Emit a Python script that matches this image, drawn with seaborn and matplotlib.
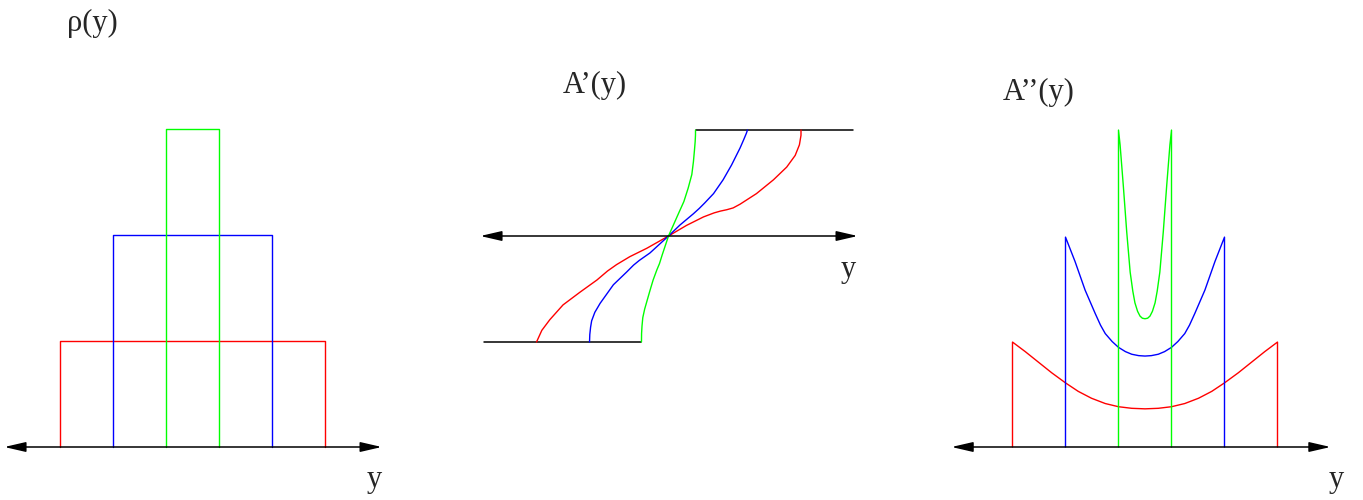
import numpy as np
import matplotlib.pyplot as plt
import seaborn as sns

sns.set_theme(style="white")
plt.rcParams["font.family"] = ["Liberation Serif", "DejaVu Serif"]

colors = ["red", "blue", "#00ff00"]

# rho(y): three slabs (half width, height)
slab_half_width = [2.5, 1.5, 0.5]
slab_height = [1, 2, 3]

# A'(y) curves: position y and value A'
ap_red_y = [-2.49, -2.39, -2.24, -1.99, -1.67, -1.35, -1.15, -0.98, -0.73, -0.41, 0,
            0.34, 0.66, 0.86, 0.98, 1.10, 1.22, 1.35, 1.66, 1.98, 2.23, 2.39, 2.47, 2.50, 2.50]
ap_red_v = [-1.0, -0.89, -0.79, -0.65, -0.53, -0.415, -0.33, -0.27, -0.195, -0.116, 0,
            0.10, 0.18, 0.218, 0.235, 0.248, 0.265, 0.30, 0.40, 0.53, 0.65, 0.76, 0.86, 0.95, 1.0]
ap_blue_y = [-1.49, -1.485, -1.47, -1.45, -1.39, -1.29, -1.04, -0.79, -0.66, -0.55, -0.35, 0,
             0.217, 0.47, 0.58, 0.68, 0.85, 1.03, 1.19, 1.35, 1.42, 1.47, 1.49]
ap_blue_v = [-1.0, -0.93, -0.86, -0.80, -0.72, -0.635, -0.46, -0.34, -0.275, -0.23, -0.16, 0,
             0.104, 0.21, 0.26, 0.31, 0.40, 0.53, 0.67, 0.83, 0.91, 0.97, 1.0]
ap_green_y = [-0.51, -0.508, -0.50, -0.485, -0.45, -0.41, -0.35, -0.29, -0.22, -0.17, -0.12, 0,
              0.12, 0.20, 0.245, 0.29, 0.37, 0.44, 0.47, 0.49, 0.503, 0.509, 0.51]
ap_green_v = [-1.0, -0.92, -0.85, -0.77, -0.69, -0.62, -0.515, -0.415, -0.32, -0.26, -0.18, 0,
              0.135, 0.225, 0.275, 0.325, 0.45, 0.58, 0.70, 0.81, 0.89, 0.95, 1.0]

# A''(y) curves
app_red_y = [-2.5, -2.26, -2.01, -1.76, -1.5, -1.26, -1.01, -0.75, -0.5, -0.25, 0,
             0.25, 0.5, 0.75, 1.01, 1.26, 1.5, 1.76, 2.01, 2.26, 2.5]
app_red_v = [0.99, 0.90, 0.80, 0.70, 0.605, 0.525, 0.46, 0.41, 0.38, 0.365, 0.36,
             0.365, 0.38, 0.41, 0.46, 0.525, 0.605, 0.70, 0.80, 0.90, 0.99]
app_blue_y = [-1.5, -1.32, -1.13, -0.94, -0.84, -0.75, -0.62, -0.5, -0.37, -0.25, -0.12, 0,
              0.12, 0.25, 0.37, 0.5, 0.62, 0.75, 0.84, 0.94, 1.13, 1.32, 1.5]
app_blue_v = [1.98, 1.75, 1.48, 1.26, 1.15, 1.07, 0.995, 0.94, 0.90, 0.875, 0.862, 0.858,
              0.862, 0.875, 0.90, 0.94, 0.995, 1.07, 1.15, 1.26, 1.48, 1.75, 1.98]
app_green_y = [-0.5, -0.47, -0.41, -0.345, -0.28, -0.23, -0.19, -0.14, -0.094, -0.05, 0,
               0.05, 0.094, 0.14, 0.19, 0.23, 0.28, 0.345, 0.41, 0.47, 0.5]
app_green_v = [2.99, 2.85, 2.47, 2.03, 1.65, 1.47, 1.36, 1.28, 1.235, 1.215, 1.21,
               1.215, 1.235, 1.28, 1.36, 1.47, 1.65, 2.03, 2.47, 2.85, 2.99]

# axis arrow extents for each panel
arrow_ends = [(-3.55, 3.57), (-3.55, 3.57), (-3.65, 3.50)]

W, H = 1363, 500
ux, uy = 53.0, 106.0
fontsize = 22

fig = plt.figure(figsize=(W / 100, H / 100), dpi=100)


def panel(x0, x1, cx, cy):
    ax = fig.add_axes([x0 / W, 0, (x1 - x0) / W, 1])
    ax.set_xlim((x0 - cx) / ux, (x1 - cx) / ux)
    ax.set_ylim((cy - H) / uy, cy / uy)
    ax.set_axis_off()
    return ax


def axis_arrow(ax, ends):
    ax.annotate("", xy=(ends[1], 0), xytext=(ends[0], 0),
                arrowprops=dict(arrowstyle="<|-|>,head_length=1.3,head_width=0.3",
                                mutation_scale=10, color="black", lw=1.1,
                                shrinkA=0, shrinkB=0))


def curve(ax, x, y, c):
    sns.lineplot(x=x, y=y, sort=False, estimator=None, color=c, lw=1.0, ax=ax)


# ---- rho(y)
ax1 = panel(0, 455, 192.5, 447)
axis_arrow(ax1, arrow_ends[0])
for hw, h, c in zip(slab_half_width, slab_height, colors):
    curve(ax1, [-hw, -hw, hw, hw], [0, h, h, 0], c)
ax1.text(-2.37, 4.0, "ρ(y)", fontsize=fontsize, ha="left", va="center")
ax1.text(3.43, -0.31, "y", fontsize=fontsize, ha="center", va="center")

# ---- A'(y)
ax2 = panel(455, 910, 668.5, 236)
axis_arrow(ax2, arrow_ends[1])
ax2.plot([ap_green_y[-1], 3.48], [1, 1], color="black", lw=1.1)
ax2.plot([-3.48, ap_green_y[0]], [-1, -1], color="black", lw=1.1)
for x, y, c in zip([ap_red_y, ap_blue_y, ap_green_y],
                   [ap_red_v, ap_blue_v, ap_green_v], colors):
    curve(ax2, x, y, c)
ax2.text(-1.99, 1.42, "A’(y)", fontsize=fontsize, ha="left", va="center")
ax2.text(3.39, -0.32, "y", fontsize=fontsize, ha="center", va="center")

# ---- A''(y)
ax3 = panel(910, 1363, 1145, 447)
axis_arrow(ax3, arrow_ends[2])
for x, y, c in zip([app_red_y, app_blue_y, app_green_y],
                   [app_red_v, app_blue_v, app_green_v], colors):
    curve(ax3, [x[0]] + x + [x[-1]], [0] + y + [0], c)
ax3.text(-2.68, 3.34, "A’’(y)", fontsize=fontsize, ha="left", va="center")
ax3.text(3.60, -0.31, "y", fontsize=fontsize, ha="center", va="center")

plt.savefig("out.png", dpi=100)
